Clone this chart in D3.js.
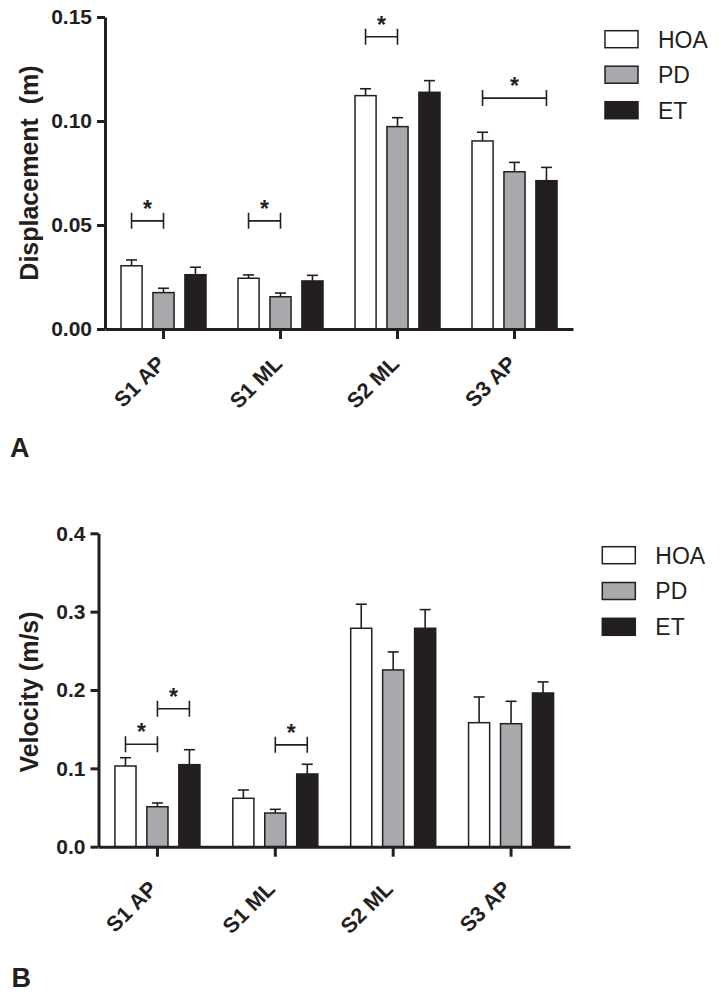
<!DOCTYPE html>
<html>
<head>
<meta charset="utf-8">
<script src="https://cdn.jsdelivr.net/npm/d3@7"></script>
<style>
  html, body { margin: 0; padding: 0; background: #fff; }
  svg { display: block; }
  text { font-family: "Liberation Sans", Arial, Helvetica, sans-serif; fill: #231f20; }
</style>
</head>
<body>
<svg id="chart" width="719" height="996"></svg>
<script>
// ---------- data ----------
const categories = ["S1 AP", "S1 ML", "S2 ML", "S3 AP"];
const groups = ["HOA", "PD", "ET"];

// Panel A: displacement (m), mean and SEM
const dispHOA = [0.0304, 0.0244, 0.1122, 0.0904];
const dispPD  = [0.0175, 0.0155, 0.0973, 0.0756];
const dispET  = [0.0261, 0.0231, 0.1138, 0.0713];
const dispHOAErr = [0.0028, 0.0016, 0.0033, 0.0042];
const dispPDErr  = [0.0021, 0.0018, 0.0043, 0.0045];
const dispETErr  = [0.0036, 0.0027, 0.0056, 0.0064];
const dispTicks = [0, 0.05, 0.10, 0.15];
// significance: category index, from group index, to group index, bracket height
const dispSig = [
  { cat: 0, from: 0, to: 1, y: 0.052 },
  { cat: 1, from: 0, to: 1, y: 0.052 },
  { cat: 2, from: 0, to: 1, y: 0.1405 },
  { cat: 3, from: 0, to: 2, y: 0.111 }
];

// Panel B: velocity (m/s), mean and SEM
const velHOA = [0.103, 0.0618, 0.2788, 0.1583];
const velPD  = [0.051, 0.043, 0.2256, 0.157];
const velET  = [0.1047, 0.0928, 0.2788, 0.1962];
const velHOAErr = [0.0106, 0.0106, 0.0307, 0.0328];
const velPDErr  = [0.0048, 0.0047, 0.0230, 0.0286];
const velETErr  = [0.0191, 0.0124, 0.0238, 0.0141];
const velTicks = [0, 0.1, 0.2, 0.3, 0.4];
const velSig = [
  { cat: 0, from: 0, to: 1, y: 0.1307 },
  { cat: 0, from: 1, to: 2, y: 0.176 },
  { cat: 1, from: 1, to: 2, y: 0.130 }
];

// ---------- style ----------
const fills = { HOA: "#ffffff", PD: "#a7a9ac", ET: "#231f20" };
const ink = "#231f20";

const svg = d3.select("#chart");

function drawPanel(cfg) {
  const g = svg.append("g");
  const x0 = d3.scaleBand().domain(categories).range(cfg.xRange).paddingInner(0).paddingOuter(0);
  const bw = x0.bandwidth();
  const x1 = d3.scaleBand().domain(groups).range([bw / 2 - 42.5, bw / 2 + 42.5]).paddingInner(0.34).paddingOuter(0);
  const y = d3.scaleLinear().domain([0, d3.max(cfg.ticks)]).range(cfg.yRange);

  const rows = [];
  groups.forEach((grp, gi) => {
    categories.forEach((cat, ci) => {
      rows.push({ grp, cat, v: cfg.means[gi][ci], e: cfg.errs[gi][ci] });
    });
  });

  const barCenter = (cat, grp) => x0(cat) + x1(grp) + x1.bandwidth() / 2;

  // error bars
  const eb = g.append("g").attr("stroke", ink).attr("stroke-width", 1.6).attr("fill", "none");
  rows.forEach(r => {
    const cx = barCenter(r.cat, r.grp);
    eb.append("line").attr("x1", cx).attr("x2", cx).attr("y1", y(r.v)).attr("y2", y(r.v + r.e));
    eb.append("line").attr("x1", cx - 5.5).attr("x2", cx + 5.5).attr("y1", y(r.v + r.e)).attr("y2", y(r.v + r.e));
  });

  // bars
  g.append("g").selectAll("rect").data(rows).join("rect")
    .attr("x", d => x0(d.cat) + x1(d.grp))
    .attr("y", d => y(d.v))
    .attr("width", x1.bandwidth())
    .attr("height", d => y(0) - y(d.v))
    .attr("fill", d => fills[d.grp])
    .attr("stroke", ink)
    .attr("stroke-width", 1.5);

  // significance brackets
  const sg = g.append("g");
  cfg.sig.forEach(s => {
    const xa = barCenter(categories[s.cat], groups[s.from]);
    const xb = barCenter(categories[s.cat], groups[s.to]);
    const yy = y(s.y);
    sg.append("path")
      .attr("d", `M${xa},${yy - 8}V${yy + 8}M${xa},${yy}H${xb}M${xb},${yy - 8}V${yy + 8}`)
      .attr("stroke", ink).attr("stroke-width", 1.6).attr("fill", "none");
    sg.append("text")
      .attr("x", (xa + xb) / 2).attr("y", yy - 4)
      .attr("text-anchor", "middle")
      .attr("font-size", 23).attr("font-weight", "bold")
      .text("*");
  });

  // y axis
  const yAxis = g.append("g")
    .attr("transform", `translate(${cfg.xRange[0]},0)`)
    .call(d3.axisLeft(y).tickValues(cfg.ticks).tickFormat(d3.format(cfg.fmt)).tickSize(8).tickSizeOuter(0).tickPadding(5));
  yAxis.select(".domain").attr("stroke", ink).attr("stroke-width", 3);
  yAxis.selectAll(".tick line").attr("stroke", ink).attr("stroke-width", 3);
  yAxis.selectAll(".tick text")
    .attr("font-size", 21).attr("font-weight", "bold")
    .attr("font-family", "'Liberation Sans', Arial, sans-serif").attr("fill", ink);

  // x axis
  const xAxis = g.append("g")
    .attr("transform", `translate(0,${cfg.yRange[0]})`)
    .call(d3.axisBottom(x0).tickSize(10).tickSizeOuter(0));
  xAxis.select(".domain").attr("stroke", ink).attr("stroke-width", 3);
  xAxis.selectAll(".tick line").attr("stroke", ink).attr("stroke-width", 3);
  xAxis.selectAll(".tick text")
    .attr("font-size", 21.5).attr("font-weight", "bold")
    .attr("font-family", "'Liberation Sans', Arial, sans-serif").attr("fill", ink)
    .attr("text-anchor", "end")
    .attr("x", 0).attr("y", 0).attr("dy", 0)
    .attr("transform", `translate(${cfg.labelOff[0]},${cfg.labelOff[1]}) rotate(-45)`);

  // y title
  g.append("text")
    .attr("transform", `translate(38,${cfg.titleY}) rotate(-90)`)
    .attr("text-anchor", "middle")
    .attr("font-size", 25).attr("font-weight", "bold")
    .text(cfg.title);

  // legend
  const lg = g.append("g");
  groups.forEach((grp, i) => {
    const ty = cfg.legend[1] + i * cfg.legend[2];
    lg.append("rect")
      .attr("x", cfg.legend[0]).attr("y", ty)
      .attr("width", 33).attr("height", 17)
      .attr("fill", fills[grp]).attr("stroke", ink).attr("stroke-width", 1.5);
    lg.append("text")
      .attr("x", cfg.legend[0] + 53).attr("y", ty + 8.5 + 8.3)
      .attr("font-size", 23)
      .text(grp);
  });

  // panel letter
  g.append("text")
    .attr("x", cfg.letter[0]).attr("y", cfg.letter[1])
    .attr("font-size", 27).attr("font-weight", "bold")
    .text(cfg.letterText);
}

drawPanel({
  xRange: [105, 573], yRange: [329, 17], ticks: dispTicks, fmt: ".2f",
  means: [dispHOA, dispPD, dispET], errs: [dispHOAErr, dispPDErr, dispETErr],
  sig: dispSig, title: "Displacement\u00a0\u00a0(m)", titleY: 173,
  labelOff: [3, 36], legend: [605, 30.7, 35.5], letter: [10, 457.3], letterText: "A"
});

drawPanel({
  xRange: [98.5, 570], yRange: [846.7, 533.3], ticks: velTicks, fmt: ".1f",
  means: [velHOA, velPD, velET], errs: [velHOAErr, velPDErr, velETErr],
  sig: velSig, title: "Velocity (m/s)", titleY: 692,
  labelOff: [1, 43.5], legend: [602.3, 546.7, 35.8], letter: [11.5, 986.7], letterText: "B"
});
</script>
</body>
</html>
